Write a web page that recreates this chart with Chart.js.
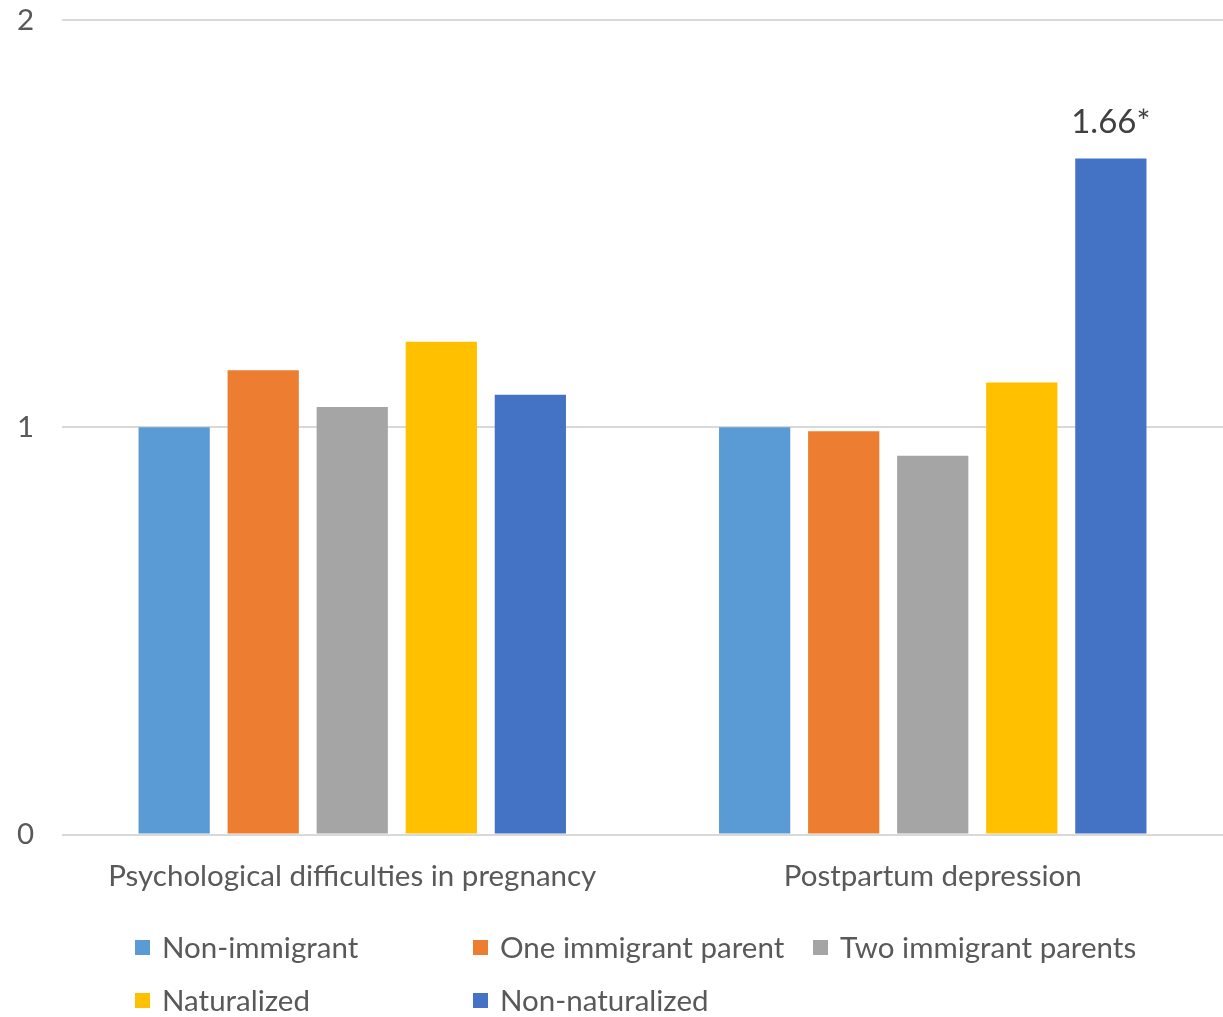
<!DOCTYPE html>
<html>
<head>
<meta charset="utf-8">
<script src="https://cdn.jsdelivr.net/npm/chart.js@4.4.0/dist/chart.umd.min.js"></script>
<style>
  html, body { margin: 0; padding: 0; background: #fff; }
  #wrap { width: 1223px; height: 1017px; }
</style>
</head>
<body>
<div id="wrap"><canvas id="myChart" width="1223" height="1017"></canvas></div>
<script>
const categories = ['Psychological difficulties in pregnancy', 'Postpartum depression'];
const seriesNames = ['Non-immigrant', 'One immigrant parent', 'Two immigrant parents', 'Naturalized', 'Non-naturalized'];
const nonImmigrant = [1.0, 1.0];
const oneImmigrantParent = [1.14, 0.99];
const twoImmigrantParents = [1.05, 0.93];
const naturalized = [1.21, 1.11];
const nonNaturalized = [1.08, 1.66];
const nonNaturalizedLabels = [null, '1.66*'];
const yTicks = [0, 1, 2];

const colors = ['#5B9BD5', '#ED7D31', '#A5A5A5', '#FFC000', '#4472C4'];
const seriesValues = [nonImmigrant, oneImmigrantParent, twoImmigrantParents, naturalized, nonNaturalized];
const FONT = 'Lato, "Open Sans", sans-serif';
const TEXT = '#595959';

// value label over the starred bar
const valueLabels = {
  id: 'valueLabels',
  afterDatasetsDraw(chart) {
    const ctx = chart.ctx;
    const meta = chart.getDatasetMeta(4);
    ctx.save();
    ctx.font = '33px ' + FONT;
    ctx.fillStyle = '#404040';
    ctx.textAlign = 'center';
    ctx.textBaseline = 'alphabetic';
    meta.data.forEach(function(bar, i) {
      const txt = nonNaturalizedLabels[i];
      if (!txt) return;
      ctx.fillText(txt, bar.x, bar.y - 25);
    });
    ctx.restore();
  }
};

// legend laid out in columns like the original
const gridLegend = {
  id: 'gridLegend',
  afterDraw(chart) {
    const ctx = chart.ctx;
    const cols = [135, 473, 813];
    const rows = [947, 1000];
    ctx.save();
    ctx.font = '29.5px ' + FONT;
    ctx.textBaseline = 'middle';
    ctx.textAlign = 'left';
    seriesNames.forEach(function(name, i) {
      const x = cols[i % 3];
      const y = rows[Math.floor(i / 3)];
      ctx.fillStyle = colors[i];
      ctx.fillRect(x, y - 7, 15, 15);
      ctx.fillStyle = TEXT;
      ctx.fillText(name, x + 27, y + 1);
    });
    ctx.restore();
  }
};

const myChart = new Chart('myChart', {
  type: 'bar',
  data: {
    labels: categories,
    datasets: seriesNames.map(function(name, i) {
      return {
        label: name,
        data: seriesValues[i],
        backgroundColor: colors[i],
        borderWidth: 0,
        barPercentage: 0.8,
        categoryPercentage: 0.767
      };
    })
  },
  options: {
    responsive: false,
    maintainAspectRatio: false,
    animation: false,
    layout: { padding: { top: 20, right: 0, left: 0, bottom: 107 } },
    scales: {
      x: {
        grid: { display: false },
        border: { display: false },
        ticks: { color: TEXT, font: { family: FONT, size: 29.5 }, padding: 16, maxRotation: 0 }
      },
      y: {
        min: 0,
        max: 2,
        afterBuildTicks: function(axis) { axis.ticks = yTicks.map(function(v) { return { value: v }; }); },
        afterFit: function(axis) {
          axis.width = 62;
          axis.paddingTop = 0;
          axis.paddingBottom = 0;
        },
        grid: { color: '#D9D9D9', lineWidth: 2, drawTicks: false },
        border: { display: false },
        ticks: { color: TEXT, font: { family: FONT, size: 29.5 }, padding: 28 }
      }
    },
    plugins: {
      legend: { display: false },
      tooltip: { enabled: false }
    }
  },
  plugins: [valueLabels, gridLegend]
});
</script>
</body>
</html>
